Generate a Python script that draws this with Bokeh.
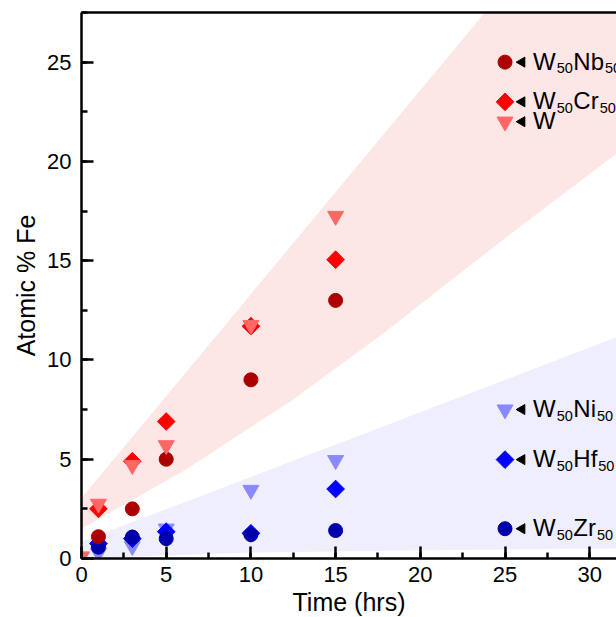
import numpy as np
from bokeh.plotting import figure
from bokeh.models import ColumnDataSource, Range1d, SingleIntervalTicker, LinearAxis, FixedTicker
from bokeh.embed import file_html
from bokeh.resources import INLINE
from bokeh.core.properties import value

# ---------------- data ----------------
time_hrs = [1, 3, 5, 10, 15]
w_time = [0, 1, 3, 5, 10, 15]
fe_w50nb50 = [1.1, 2.5, 5.0, 9.0, 13.0]
fe_w50cr50 = [2.5, 4.9, 6.9, 11.7, 15.05]
fe_w = [0.1, 2.75, 4.7, 5.7, 11.75, 17.25]
fe_w50ni50 = [0.28, 0.62, 1.5, 3.45, 4.95]
fe_w50hf50 = [0.75, 1.0, 1.35, 1.27, 3.5]
fe_w50zr50 = [0.57, 1.08, 1.0, 1.2, 1.41]

# shaded bands
red_upper_x = [0, 31.6]
red_upper_y = [3.05, 35.5]
red_lower_x = [0, 6, 12.3, 17.6, 24.5, 31.6]
red_lower_y = [1.5, 4.4, 7.9, 11.2, 15.8, 20.4]
blue_upper_x = [0, 31.6]
blue_upper_y = [0.85, 11.15]
blue_lower_x = [0, 10, 20, 31.6]
blue_lower_y = [0.0, 0.3, 0.42, 0.5]

# in-plot legend
legend_x = 25
legend_y = [25.0, 23.0, 22.0, 7.5, 4.98, 1.5]
legend_parts = [
    [("W", 0), ("50", 1), ("Nb", 0), ("50", 1)],
    [("W", 0), ("50", 1), ("Cr", 0), ("50", 1)],
    [("W", 0)],
    [("W", 0), ("50", 1), ("Ni", 0), ("50", 1)],
    [("W", 0), ("50", 1), ("Hf", 0), ("50", 1)],
    [("W", 0), ("50", 1), ("Zr", 0), ("50", 1)],
]
legend_marker = ["circle", "square", "inverted_triangle", "inverted_triangle", "square", "circle"]
legend_color = ["#aa0000", "#ff0000", "#ff6666", "#8888ff", "#0000ff", "#0000aa"]

# ---------------- styling ----------------
FONT = "Liberation Sans"
MAIN_PX = 24
SUB_PX = 14.5
ADV = {"W": .944, "N": .722, "b": .556, "C": .722, "r": .333, "H": .722, "f": .278,
       "Z": .611, "i": .222, "0": .556, "5": .556}

p = figure(frame_width=535, frame_height=546, output_backend="svg", toolbar_location=None,
           x_range=Range1d(0, 31.58), y_range=Range1d(0, 27.5),
           min_border_left=81, min_border_right=0, min_border_top=12, min_border_bottom=0)
p.xgrid.visible = False
p.ygrid.visible = False
p.outline_line_color = None
p.background_fill_color = "white"

# bands
p.patch(red_upper_x + red_lower_x[::-1], red_upper_y + red_lower_y[::-1],
        fill_color="#fde6e6", line_color=None)
p.patch(blue_upper_x + blue_lower_x[::-1], blue_upper_y + blue_lower_y[::-1],
        fill_color="#eeeefc", line_color=None)

# data markers
p.scatter(time_hrs, fe_w50ni50, marker="inverted_triangle", size=16, color="#8888ff")
p.scatter(time_hrs, fe_w50hf50, marker="square", angle=np.pi / 4, size=12.5, color="#0000ff")
p.scatter(time_hrs, fe_w50zr50, marker="circle", size=14, color="#0000aa")
p.scatter(time_hrs, fe_w50nb50, marker="circle", size=14, color="#aa0000")
p.scatter(time_hrs, fe_w50cr50, marker="square", angle=np.pi / 4, size=12.5, color="#ff0000")
p.scatter(w_time, fe_w, marker="inverted_triangle", size=16, color="#ff6666")

# legend markers
for m, c, y in zip(legend_marker, legend_color, legend_y):
    kw = dict(angle=np.pi / 4, size=12.5) if m == "square" else dict(size=16 if "tri" in m else 14)
    p.scatter([legend_x], [y], marker=m, color=c, **kw)
p.scatter([legend_x + 1.0] * len(legend_y), legend_y, marker="triangle", angle=np.pi / 2,
          size=10, color="black")

tx, ty, tt, txo, tyo, tfs = [], [], [], [], [], []
for y, parts in zip(legend_y, legend_parts):
    off = 28.0
    for s, sub in parts:
        fs = SUB_PX if sub else MAIN_PX
        tx.append(legend_x)
        ty.append(y)
        tt.append(s)
        txo.append(off)
        tyo.append(6.2 if sub else -1.0)
        tfs.append(f"{fs}px")
        off += sum(ADV[ch] for ch in s) * fs + (1.0 if not sub else 0.5)
src = ColumnDataSource(dict(x=tx, y=ty, text=tt, xo=txo, yo=tyo, fs=tfs))
p.text(x="x", y="y", text="text", x_offset="xo", y_offset="yo", text_font_size="fs",
       text_font=value(FONT), text_baseline="alphabetic", text_align="left",
       text_color="black", source=src)

# axes
for ax in (p.xaxis[0], p.yaxis[0]):
    ax.ticker = SingleIntervalTicker(interval=5, num_minor_ticks=2)
    ax.axis_line_width = 2.5
    ax.major_tick_line_width = 2.5
    ax.minor_tick_line_width = 2.5
    ax.major_tick_in = 12
    ax.major_tick_out = 0
    ax.minor_tick_in = 6
    ax.minor_tick_out = 0
    ax.major_label_text_font = FONT
    ax.major_label_text_font_size = "22px"
    ax.major_label_text_color = "black"
    ax.axis_label_text_font = FONT
    ax.axis_label_text_font_size = "25px"
    ax.axis_label_text_font_style = "normal"
    ax.axis_label_text_color = "black"
    ax.axis_line_color = "black"
    ax.major_tick_line_color = "black"
    ax.minor_tick_line_color = "black"

p.xaxis.axis_label = "Time (hrs)"
p.yaxis.axis_label = "Atomic % Fe"
p.xaxis.major_label_standoff = 8
p.xaxis.axis_label_standoff = 3
p.yaxis.major_label_standoff = 10
p.yaxis.axis_label_standoff = 4

top = LinearAxis(ticker=FixedTicker(ticks=[]), axis_line_width=2.5, axis_line_color="black",
                 major_tick_out=0, major_tick_in=0, minor_tick_out=0, minor_tick_in=0,
                 major_label_standoff=0, axis_label=None)
p.add_layout(top, "above")

open("out.html", "w").write(file_html(p, INLINE))
